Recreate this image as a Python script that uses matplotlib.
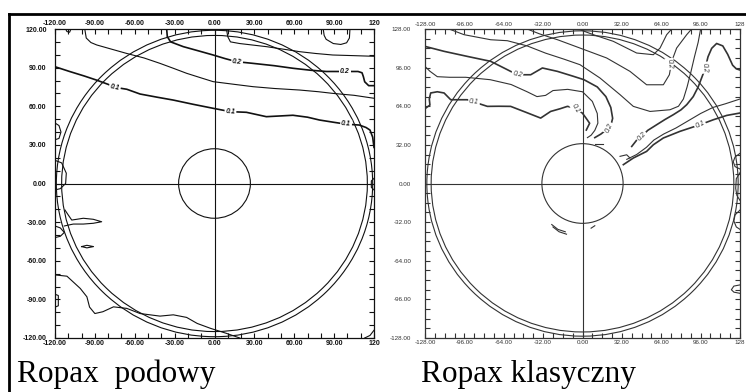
import matplotlib
matplotlib.use("Agg")
import matplotlib.pyplot as plt
from matplotlib.patches import Ellipse
from matplotlib.lines import Line2D

# ---------------- left panel: Ropax podowy ----------------
pod_ticks = [-120, -90, -60, -30, 0, 30, 60, 90, 120]
pod_xlabels = ["-120.00", "-90.00", "-60.00", "-30.00", "0.00", "30.00", "60.00", "90.00", "120"]
pod_ylabels = ["-120.00", "-90.00", "-60.00", "-30.00", "0.00", "30.00", "60.00", "90.00", "120.00"]
pod_rings = [119, 115]
pod_hub = 27

pod_c01_x = [-120, -109, -98, -89, -80, -75, -66, -56, -43, -31, -16, -1, 12, 24, 39, 50, 59, 70, 79, 90, 99, 109, 114, 117, 119, 120]
pod_c01_y = [90.7, 87, 83.5, 80.4, 77, 74.7, 73.2, 69.5, 67, 64.8, 61.5, 58.4, 55.8, 55.3, 51.9, 52.5, 53, 51.5, 49.3, 47.5, 46.1, 45.4, 43.5, 41.5, 36, 28]
pod_c015_x = [-97.6, -96.5, -93, -88.6, -78, -66, -53, -41, -31, -21, -10, -1, 15, 29, 45, 64, 78, 89, 105, 120]
pod_c015_y = [120, 113, 109.5, 107.6, 104.5, 101, 97.5, 93.3, 89.5, 85.6, 82, 79.1, 77, 75.2, 73.8, 72.6, 71.3, 70, 68.5, 66.2]
pod_c02_x = [-36, -35.5, -33, -23.5, -12, -1, 8, 16.7, 29, 45, 59, 72, 84, 98, 108, 111, 112, 113, 116, 120]
pod_c02_y = [120, 114, 110, 106.3, 103, 99.8, 97, 94.6, 93.3, 91.5, 89.5, 88, 87, 87, 87, 86, 83, 79, 76, 76]
pod_c025_x = [9, 10, 12, 19, 29, 39, 52, 64, 76, 89, 105, 120]
pod_c025_y = [120, 114, 110, 108.7, 107.5, 106.3, 104.3, 102.4, 101, 99.8, 99.3, 98.8]
pod_loop_x = [81.8, 82.5, 84, 89.4, 95, 99.4, 101.5, 101.9]
pod_loop_y = [120, 115, 112, 108.7, 108, 109.3, 113, 120]
pod_d_x = [-112, -111, -109, -108]
pod_d_y = [120, 118, 117.5, 120]
pod_e1_x = [-120, -117, -115.5, -117, -120]
pod_e1_y = [47, 45, 40, 35, 34]
pod_e2_x = [-120, -115, -111.5, -112, -116, -120]
pod_e2_y = [18, 16, 8, 0, -4, -5]
pod_lens_x = [-112.5, -110, -107.4, -98.7, -91.2, -84.9, -91.2, -98.7, -106.2, -110, -113]
pod_lens_y = [-20.6, -24.5, -28.4, -27, -27.8, -29.7, -30.9, -31.5, -31.5, -32.3, -33]
pod_e3_x = [-120, -116, -113, -116, -120]
pod_e3_y = [-33, -34.5, -38, -41, -42]
pod_lens2_x = [-100, -96, -91, -96, -100]
pod_lens2_y = [-49, -48, -49, -50, -49]
pod_low_x = [-120, -111, -101, -96, -94, -90, -84, -76, -66, -56, -41, -31, -21, -13, -3, 9, 19]
pod_low_y = [-71, -72, -81.5, -88, -96, -101, -99.6, -95.8, -97, -101, -103, -102, -104, -108.7, -112.5, -116.4, -120]
pod_e4_x = [-120, -117.5, -117.5, -120]
pod_e4_y = [-86, -87, -95, -96]
pod_br_x = [113, 117, 120]
pod_br_y = [-120, -118, -114]
pod_re_x = [120, 118, 118, 120]
pod_re_y = [4, 2, -3, -5]

pod_lab_x = [-75, 12, 99, 17, 98]
pod_lab_y = [74.7, 56, 46.3, 94.6, 87]
pod_lab_t = ["0.1", "0.1", "0.1", "0.2", "0.2"]
pod_lab_r = [-12, -4, -4, -6, 0]

# ---------------- right panel: Ropax klasyczny ----------------
kl_ticks = [-128, -96, -64, -32, 0, 32, 64, 96, 128]
kl_xlabels = ["-128.00", "-96.00", "-64.00", "-32.00", "0.00", "32.00", "64.00", "96.00", "128"]
kl_ylabels = ["-128.00", "-96.00", "-64.00", "-32.00", "0.00", "32.00", "64.00", "96.00", "128.00"]
kl_rings = [126.5, 123]
kl_hub = 33

kl_t1_x = [-14, -2, 8.8, 25, 44, 57.6, 63, 68.4, 72.5]
kl_t1_y = [128, 127.4, 123.3, 117.8, 108.1, 106.7, 112.2, 123.3, 128]
kl_t2_x = [-45, -35, -20, -2, 19.6, 38.6, 52.1, 65.7, 70.6, 72.5, 76.5, 84.7, 88.7]
kl_t2_y = [128, 124, 119, 112.2, 104, 92.9, 81.8, 81.8, 90.1, 101.2, 112.2, 123.3, 128]
kl_t3_x = [-108.5, -96.3, -74.6, -61.1, -45, -30, -15, -2, 14.2, 30.5, 41.3, 54.9, 71.1, 78, 82, 85, 88, 91, 94, 96]
kl_t3_y = [128, 123.3, 119.1, 118.3, 114, 108, 103, 98.4, 87.4, 73.6, 63.9, 59.7, 61.1, 64, 70, 80, 92, 105, 117, 128]
kl_02b_x = [40, 45.4, 48.1, 53, 60.3, 67, 73.8, 80, 84.7, 90, 94, 97, 99.6, 102, 105, 109, 114, 118, 122, 125, 128]
kl_02b_y = [30.7, 37.7, 39, 44, 48.7, 53, 57, 61, 65.3, 72, 80, 88, 95, 105, 112, 116, 114, 107, 98, 95, 94]
kl_a_x = [-128, -112.5, -93.6, -74.6, -61.1, -53, -42.1, -32.6, -20.4, -8, 1.2, 12, 19, 23, 24.5, 23, 20, 15, 10]
kl_a_y = [113.6, 109.5, 105.3, 101.2, 94.3, 90.1, 90.1, 95.7, 92.9, 89, 86, 80, 72, 63, 54, 48, 45, 41, 38]
kl_b_x = [-128, -124, -118, -108, -95, -75, -58, -45, -37, -30, -24, -12, 0, 8, 12, 12.5, 10, 7, 4]
kl_b_y = [97, 93, 88.5, 88, 88, 86, 82, 76, 72, 73, 77, 78, 76, 68, 58, 50, 44, 40, 38]
kl_01_x = [-128, -124, -124.5, -123.4, -118, -112.5, -107.1, -100, -93.6, -88.2, -77.3, -68, -58.4, -46, -34, -25.9, -18, -12.3, -5.5, 0, 3, 5.8, 3.1]
kl_01_y = [62, 65, 70, 75, 76, 75, 69.4, 69.4, 69.4, 67.5, 63.9, 64, 63.9, 59, 54.2, 59.7, 62, 63.9, 62.5, 58.2, 54, 49.9, 44.3]
kl_01b_x = [33.2, 41.3, 52.1, 57.6, 65.7, 79.2, 95.5, 106.3, 117.2, 128]
kl_01b_y = [15.6, 21.1, 26.6, 32.1, 37.7, 43.2, 48.7, 52.8, 56.4, 58.4]
kl_mid_x = [36, 44, 52, 58, 66, 76, 86, 96, 106, 116, 128]
kl_mid_y = [20, 24, 30, 36, 41, 46, 52, 58, 63, 66, 70]
kl_v_x = [30.5, 35.9, 38.6]
kl_v_y = [22.5, 23.8, 21.1]
kl_dash_x = [10, 17]
kl_dash_y = [32.7, 32.7]
kl_h1_x = [-25, -20, -14]
kl_h1_y = [-34, -38, -40]
kl_h2_x = [-24, -19, -13]
kl_h2_y = [-36, -40, -42]
kl_h3_x = [7, 10]
kl_h3_y = [-37, -35]
kl_r1_x = [128, 124, 122.5, 124, 128]
kl_r1_y = [25, 22, 18, 14, 12]
kl_r2_x = [128, 125, 124.5, 125.5, 128]
kl_r2_y = [9, 4, -4, -10, -14]
kl_r3_x = [128, 124, 123, 125, 128]
kl_r3_y = [-22, -26, -31, -36, -38]
kl_r4_x = [128, 123, 121, 123, 128]
kl_r4_y = [-84, -85, -88, -90, -91]

kl_lab_x = [-53, -88.2, -5.5, 21.5, 48.1, 95.5, 70.6, 99.6]
kl_lab_y = [90.1, 67.5, 62.5, 46, 39, 48.7, 99, 96]
kl_lab_t = ["0.2", "0.1", "0.1", "0.2", "0.2", "0.1", "0.2", "0.2"]
kl_lab_r = [-12, -5, -60, 65, 45, 25, -85, -85]

pod_thick = [(pod_c01_x, pod_c01_y), (pod_c02_x, pod_c02_y)]
pod_thin = [(pod_c015_x, pod_c015_y), (pod_c025_x, pod_c025_y), (pod_loop_x, pod_loop_y),
            (pod_d_x, pod_d_y), (pod_e1_x, pod_e1_y), (pod_e2_x, pod_e2_y), (pod_lens_x, pod_lens_y),
            (pod_e3_x, pod_e3_y), (pod_lens2_x, pod_lens2_y), (pod_low_x, pod_low_y),
            (pod_e4_x, pod_e4_y), (pod_br_x, pod_br_y), (pod_re_x, pod_re_y)]
kl_thick = [(kl_a_x, kl_a_y), (kl_01_x, kl_01_y), (kl_02b_x, kl_02b_y), (kl_01b_x, kl_01b_y)]
kl_thin = [(kl_t1_x, kl_t1_y), (kl_t2_x, kl_t2_y), (kl_t3_x, kl_t3_y), (kl_b_x, kl_b_y),
           (kl_mid_x, kl_mid_y), (kl_v_x, kl_v_y), (kl_dash_x, kl_dash_y), (kl_h1_x, kl_h1_y),
           (kl_h2_x, kl_h2_y), (kl_h3_x, kl_h3_y), (kl_r1_x, kl_r1_y), (kl_r2_x, kl_r2_y),
           (kl_r3_x, kl_r3_y), (kl_r4_x, kl_r4_y)]


def draw_panel(ax, lim, ticks, minor, xlabels, ylabels, rings, hub, thick, thin,
               lab_x, lab_y, lab_t, lab_r, col, weight, fsize, ypad):
    ax.set_xlim(-lim, lim)
    ax.set_ylim(-lim, lim)
    for r in rings:
        ax.add_patch(Ellipse((0, 0), 2 * r, 2 * r, fill=False, ec=col, lw=0.8))
    ax.add_patch(Ellipse((0, 0), 2 * hub, 2 * hub, fill=False, ec=col, lw=0.8))
    ax.axvline(0, color=col, lw=0.8)
    ax.axhline(0, color=col, lw=0.8)
    for xs, ys in thick:
        ax.plot(xs, ys, color=col, lw=1.2, solid_joinstyle="round", clip_on=True)
    for xs, ys in thin:
        ax.plot(xs, ys, color=col, lw=0.8, solid_joinstyle="round", clip_on=True)
    for x, y, t, r in zip(lab_x, lab_y, lab_t, lab_r):
        ax.text(x, y, t, rotation=r, ha="center", va="center", fontsize=5, style="italic",
                color=col, fontweight=weight, family="Liberation Sans",
                bbox=dict(boxstyle="square,pad=0.15", fc="white", ec="none"))
    ax.set_xticks(ticks)
    ax.set_yticks(ticks)
    ax.set_xticks(minor, minor=True)
    ax.set_yticks(minor, minor=True)
    ax.set_xticklabels(xlabels)
    ax.set_yticklabels(ylabels)
    ax.tick_params(which="both", direction="in", top=True, right=True, labeltop=True,
                   labelbottom=True, length=3.5, width=0.8, color=col)
    ax.tick_params(axis="x", which="major", pad=1.5, labelsize=fsize, labelcolor=col)
    ax.tick_params(axis="y", which="major", pad=ypad, labelsize=fsize, labelcolor=col)
    for lab in ax.get_xticklabels() + ax.get_yticklabels():
        lab.set_fontweight(weight)
        lab.set_family("Liberation Sans")
    for s in ax.spines.values():
        s.set_color(col)
        s.set_linewidth(0.9)


fig = plt.figure(figsize=(7.46, 3.92), dpi=100)
fig.patch.set_facecolor("white")

ax1 = fig.add_axes([55 / 746, 54 / 392, 319 / 746, 309 / 392])
draw_panel(ax1, 120, pod_ticks, list(range(-120, 121, 10)), pod_xlabels, pod_ylabels,
           pod_rings, pod_hub, pod_thick, pod_thin, pod_lab_x, pod_lab_y, pod_lab_t, pod_lab_r,
           "#111111", "bold", 5, 6)

ax2 = fig.add_axes([425 / 746, 54 / 392, 315 / 746, 309 / 392])
draw_panel(ax2, 128, kl_ticks, list(range(-128, 129, 8)), kl_xlabels, kl_ylabels,
           kl_rings, kl_hub, kl_thick, kl_thin, kl_lab_x, kl_lab_y, kl_lab_t, kl_lab_r,
           "#333333", "normal", 4.5, 10)

# frame of the scanned figure
fig.add_artist(Line2D([9 / 746, 1], [1 - 14 / 392, 1 - 14 / 392], color="black", lw=2))
fig.add_artist(Line2D([9 / 746, 9 / 746], [0, 1 - 14 / 392], color="black", lw=2))

fig.text(17 / 746, 10 / 392, "Ropax  podowy", family="Liberation Serif", fontsize=22.5, va="baseline")
fig.text(421 / 746, 10 / 392, "Ropax klasyczny", family="Liberation Serif", fontsize=22.5, va="baseline")

fig.savefig("out.png", dpi=100, facecolor="white")
